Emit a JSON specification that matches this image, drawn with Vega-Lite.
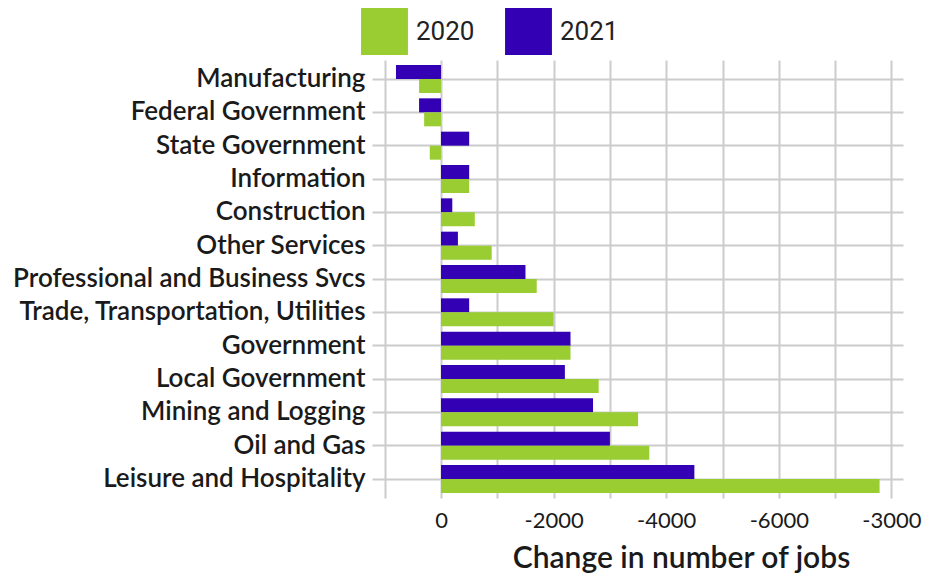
{
  "$schema": "https://vega.github.io/schema/vega-lite/v6.json",
  "width": 531,
  "height": 438,
  "autosize": "none",
  "padding": {"left": 372, "top": 60, "right": 32, "bottom": 78},
  "background": "white",
  "data": {
    "values": [
      {"sector": "Manufacturing", "year": "2021", "change": 800},
      {"sector": "Manufacturing", "year": "2020", "change": 390},
      {"sector": "Federal Government", "year": "2021", "change": 390},
      {"sector": "Federal Government", "year": "2020", "change": 300},
      {"sector": "State Government", "year": "2021", "change": -500},
      {"sector": "State Government", "year": "2020", "change": 200},
      {"sector": "Information", "year": "2021", "change": -500},
      {"sector": "Information", "year": "2020", "change": -500},
      {"sector": "Construction", "year": "2021", "change": -200},
      {"sector": "Construction", "year": "2020", "change": -600},
      {"sector": "Other Services", "year": "2021", "change": -300},
      {"sector": "Other Services", "year": "2020", "change": -900},
      {"sector": "Professional and Business Svcs", "year": "2021", "change": -1500},
      {"sector": "Professional and Business Svcs", "year": "2020", "change": -1700},
      {"sector": "Trade, Transportation, Utilities", "year": "2021", "change": -500},
      {"sector": "Trade, Transportation, Utilities", "year": "2020", "change": -2000},
      {"sector": "Government", "year": "2021", "change": -2300},
      {"sector": "Government", "year": "2020", "change": -2300},
      {"sector": "Local Government", "year": "2021", "change": -2200},
      {"sector": "Local Government", "year": "2020", "change": -2800},
      {"sector": "Mining and Logging", "year": "2021", "change": -2700},
      {"sector": "Mining and Logging", "year": "2020", "change": -3500},
      {"sector": "Oil and Gas", "year": "2021", "change": -3000},
      {"sector": "Oil and Gas", "year": "2020", "change": -3700},
      {"sector": "Leisure and Hospitality", "year": "2021", "change": -4500},
      {"sector": "Leisure and Hospitality", "year": "2020", "change": -7790}
    ]
  },
  "mark": {"type": "bar"},
  "encoding": {
    "y": {
      "field": "sector",
      "type": "nominal",
      "sort": null,
      "scale": {"paddingInner": 0.16, "paddingOuter": 0.15},
      "axis": {
        "title": null,
        "bandPosition": 0.5,
        "ticks": false,
        "domain": false,
        "grid": true,
        "gridColor": "#cccccc",
        "gridWidth": 2,
        "labelPadding": 7,
        "labelLimit": 0,
        "labelFont": "Lato",
        "labelFontWeight": 600,
        "labelFontSize": 26,
        "labelColor": "#1a1a1a"
      }
    },
    "x": {
      "field": "change",
      "type": "quantitative",
      "scale": {"domain": [-8206, 1226], "reverse": true, "nice": false, "zero": false},
      "axis": {
        "title": "Change in number of jobs",
        "titleFont": "Lato",
        "titleFontWeight": 600,
        "titleFontSize": 30,
        "titleColor": "#1a1a1a",
        "titlePadding": 12,
        "titleAnchor": "middle",
        "titleX": 309,
        "values": [1000, 0, -1000, -2000, -3000, -4000, -5000, -6000, -7000, -8000],
        "labelExpr": "datum.value % 2000 != 0 ? '' : (datum.value == -8000 ? '-3000' : '' + datum.value)",
        "labelFont": "Lato",
        "labelFontSize": 22,
        "labelColor": "#1a1a1a",
        "labelPadding": 12,
        "ticks": false,
        "domain": false,
        "grid": true,
        "gridColor": "#cccccc",
        "gridWidth": 2
      }
    },
    "color": {
      "field": "year",
      "type": "nominal",
      "scale": {"domain": ["2020", "2021"], "range": ["#9acd32", "#3300b3"]},
      "legend": {
        "title": null,
        "orient": "none",
        "direction": "horizontal",
        "legendX": -11,
        "legendY": -52,
        "symbolType": "square",
        "symbolSize": 2200,
        "symbolStrokeWidth": 0,
        "labelFont": "Roboto",
        "labelFontSize": 26,
        "labelColor": "#222222",
        "labelOffset": 8,
        "columnPadding": 30
      }
    },
    "yOffset": {"field": "year", "type": "nominal", "sort": ["2021", "2020"]}
  },
  "config": {"view": {"stroke": null}}
}
